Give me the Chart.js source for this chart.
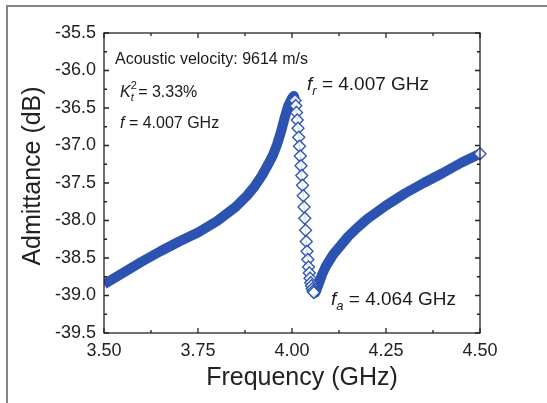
<!DOCTYPE html>
<html>
<head>
<meta charset="utf-8">
<script src="https://cdn.jsdelivr.net/npm/chart.js@4.4.1/dist/chart.umd.min.js"></script>
<style>
  html, body { margin: 0; padding: 0; background: #fff; }
  #wrap { width: 547px; height: 403px; }
</style>
</head>
<body>
<div id="wrap"><canvas id="chart" width="547" height="403"></canvas></div>
<script>
// values
const freqGHz = [
  3.50, 3.55, 3.60, 3.65, 3.70, 3.75, 3.80, 3.85, 3.88, 3.90,
  3.92, 3.94, 3.95, 3.96, 3.97, 3.98, 3.99, 4.00, 4.005,
  4.008, 4.010, 4.012, 4.014, 4.016, 4.018, 4.020, 4.022, 4.024, 4.026,
  4.028, 4.030, 4.032, 4.034, 4.036, 4.038, 4.040, 4.042, 4.044, 4.046,
  4.048, 4.050, 4.052, 4.054, 4.056, 4.058, 4.060, 4.062,
  4.064, 4.070, 4.075, 4.080, 4.090, 4.100, 4.110, 4.125, 4.150, 4.175,
  4.20, 4.25, 4.30, 4.35, 4.40, 4.45, 4.50
];
const admittanceDB = [
  -38.85, -38.70, -38.55, -38.41, -38.28, -38.16, -38.01, -37.82, -37.67, -37.55,
  -37.40, -37.22, -37.12, -36.99, -36.83, -36.64, -36.47, -36.37, -36.34,
  -36.40, -36.47, -36.56, -36.66, -36.77, -36.89, -37.01, -37.14, -37.27, -37.40,
  -37.53, -37.67, -37.82, -37.97, -38.13, -38.28, -38.41, -38.52, -38.62, -38.70,
  -38.77, -38.83, -38.87, -38.91, -38.94, -38.96, -38.97, -38.96,
  -38.94, -38.86, -38.79, -38.72, -38.61, -38.53, -38.45, -38.36, -38.21, -38.09,
  -37.98, -37.80, -37.64, -37.50, -37.37, -37.23, -37.11
];
const xTickValues = [3.50, 3.75, 4.00, 4.25, 4.50];
const xTickLabels = ["3.50", "3.75", "4.00", "4.25", "4.50"];
const yTickValues = [-39.5, -39.0, -38.5, -38.0, -37.5, -37.0, -36.5, -36.0, -35.5];
const yTickLabels = ["-39.5", "-39.0", "-38.5", "-38.0", "-37.5", "-37.0", "-36.5", "-36.0", "-35.5"];

const BLUE = "#2c52b2";
const AXIS = "#222";
const FONT = "'Liberation Sans', Arial, sans-serif";

function inSteep(f) { return f > 4.007 && f < 4.059; }

// draws text made of parts (italic / sub / super)
function richText(ctx, x, y, parts) {
  let cx = x;
  parts.forEach(p => {
    ctx.font = (p.italic ? "italic " : "") + p.size + "px " + FONT;
    ctx.fillText(p.t, cx, y + (p.dy || 0));
    if (!p.stack) cx += ctx.measureText(p.t).width;
  });
  return cx;
}

const axisBox = {
  id: "axisBox",
  beforeDraw(chart) {
    const ctx = chart.ctx;
    ctx.save();
    ctx.strokeStyle = "#858585";
    ctx.lineWidth = 2;
    ctx.beginPath();
    ctx.moveTo(7, 403);
    ctx.lineTo(7, 6);
    ctx.lineTo(547, 6);
    ctx.stroke();
    ctx.restore();
  },
  afterDraw(chart) {
    const { ctx, chartArea: a, scales: { x, y } } = chart;
    ctx.save();
    ctx.strokeStyle = AXIS;
    ctx.lineWidth = 1.3;
    ctx.strokeRect(a.left, a.top, a.right - a.left, a.bottom - a.top);
    ctx.beginPath();
    xTickValues.forEach((v, i) => {
      const px = x.getPixelForValue(v);
      ctx.moveTo(px, a.bottom); ctx.lineTo(px, a.bottom - 5);
      ctx.moveTo(px, a.top); ctx.lineTo(px, a.top + 5);
      if (i < xTickValues.length - 1) {
        const m = x.getPixelForValue((v + xTickValues[i + 1]) / 2);
        ctx.moveTo(m, a.bottom); ctx.lineTo(m, a.bottom - 3);
        ctx.moveTo(m, a.top); ctx.lineTo(m, a.top + 3);
      }
    });
    yTickValues.forEach((v, i) => {
      const py = y.getPixelForValue(v);
      ctx.moveTo(a.left, py); ctx.lineTo(a.left + 5, py);
      ctx.moveTo(a.right, py); ctx.lineTo(a.right - 5, py);
      if (i < yTickValues.length - 1) {
        const m = y.getPixelForValue((v + yTickValues[i + 1]) / 2);
        ctx.moveTo(a.left, m); ctx.lineTo(a.left + 3, m);
        ctx.moveTo(a.right, m); ctx.lineTo(a.right - 3, m);
      }
    });
    ctx.stroke();

    // axis titles
    ctx.fillStyle = AXIS;
    ctx.font = "25px " + FONT;
    ctx.textAlign = "center";
    ctx.textBaseline = "middle";
    ctx.fillText("Frequency (GHz)", 302, 378);
    ctx.save();
    ctx.translate(33, 176);
    ctx.rotate(-Math.PI / 2);
    ctx.fillText("Admittance (dB)", 0, 0);
    ctx.restore();

    // annotations
    ctx.textAlign = "left";
    ctx.fillStyle = "#1a1a1a";
    ctx.textBaseline = "alphabetic";
    richText(ctx, 115, 64, [{ t: "Acoustic velocity: 9614 m/s", size: 16 }]);
    richText(ctx, 120, 97, [
      { t: "K", size: 16, italic: true },
      { t: "2", size: 11, dy: -8, stack: true },
      { t: "t", size: 11, italic: true, dy: 4 },
      { t: " = 3.33%", size: 16 }
    ]);
    richText(ctx, 120, 128, [
      { t: "f", size: 16, italic: true },
      { t: " = 4.007 GHz", size: 16 }
    ]);
    richText(ctx, 307, 90, [
      { t: "f", size: 19, italic: true },
      { t: "r", size: 13, italic: true, dy: 5 },
      { t: " = 4.007 GHz", size: 19 }
    ]);
    richText(ctx, 331, 305, [
      { t: "f", size: 19, italic: true },
      { t: "a", size: 13, italic: true, dy: 5 },
      { t: " = 4.064 GHz", size: 19 }
    ]);
    ctx.restore();
  }
};

new Chart(document.getElementById("chart").getContext("2d"), {
  type: "line",
  data: {
    datasets: [{
      label: "Admittance",
      data: freqGHz.map((f, i) => ({ x: f, y: admittanceDB[i] })),
      clip: { left: 0, top: 8, right: 10, bottom: 8 },
      borderColor: BLUE,
      borderWidth: 10,
      borderJoinStyle: "round",
      borderCapStyle: "butt",
      tension: 0,
      fill: false,
      segment: {
        borderWidth: c => (inSteep(freqGHz[c.p0DataIndex]) && inSteep(freqGHz[c.p1DataIndex])) ? 1.5 : 10
      },
      pointStyle: "rectRot",
      pointRadius: c => (inSteep(freqGHz[c.dataIndex]) || c.dataIndex === freqGHz.length - 1) ? 6 : 0,
      pointHoverRadius: 0,
      pointBackgroundColor: "rgba(255,255,255,0.85)",
      pointBorderColor: BLUE,
      pointBorderWidth: 1.3
    }]
  },
  options: {
    responsive: false,
    animation: false,
    layout: { padding: { top: 33, right: 67, bottom: 0, left: 0 } },
    plugins: { legend: { display: false }, tooltip: { enabled: false } },
    scales: {
      x: {
        type: "linear",
        min: 3.5, max: 4.5,
        afterBuildTicks: s => { s.ticks = xTickValues.map(v => ({ value: v })); },
        afterFit: s => { s.height = 70; },
        grid: { display: false, drawTicks: false },
        border: { display: false },
        ticks: {
          padding: 7,
          color: AXIS,
          font: { family: FONT, size: 18 },
          callback: (v, i) => xTickLabels[i]
        }
      },
      y: {
        min: -39.5, max: -35.5,
        afterBuildTicks: s => { s.ticks = yTickValues.map(v => ({ value: v })); },
        afterFit: s => { s.width = 104; },
        grid: { display: false, drawTicks: false },
        border: { display: false },
        ticks: {
          padding: 8,
          color: AXIS,
          font: { family: FONT, size: 18 },
          callback: (v, i) => yTickLabels[i]
        }
      }
    }
  },
  plugins: [axisBox]
});
</script>
</body>
</html>
